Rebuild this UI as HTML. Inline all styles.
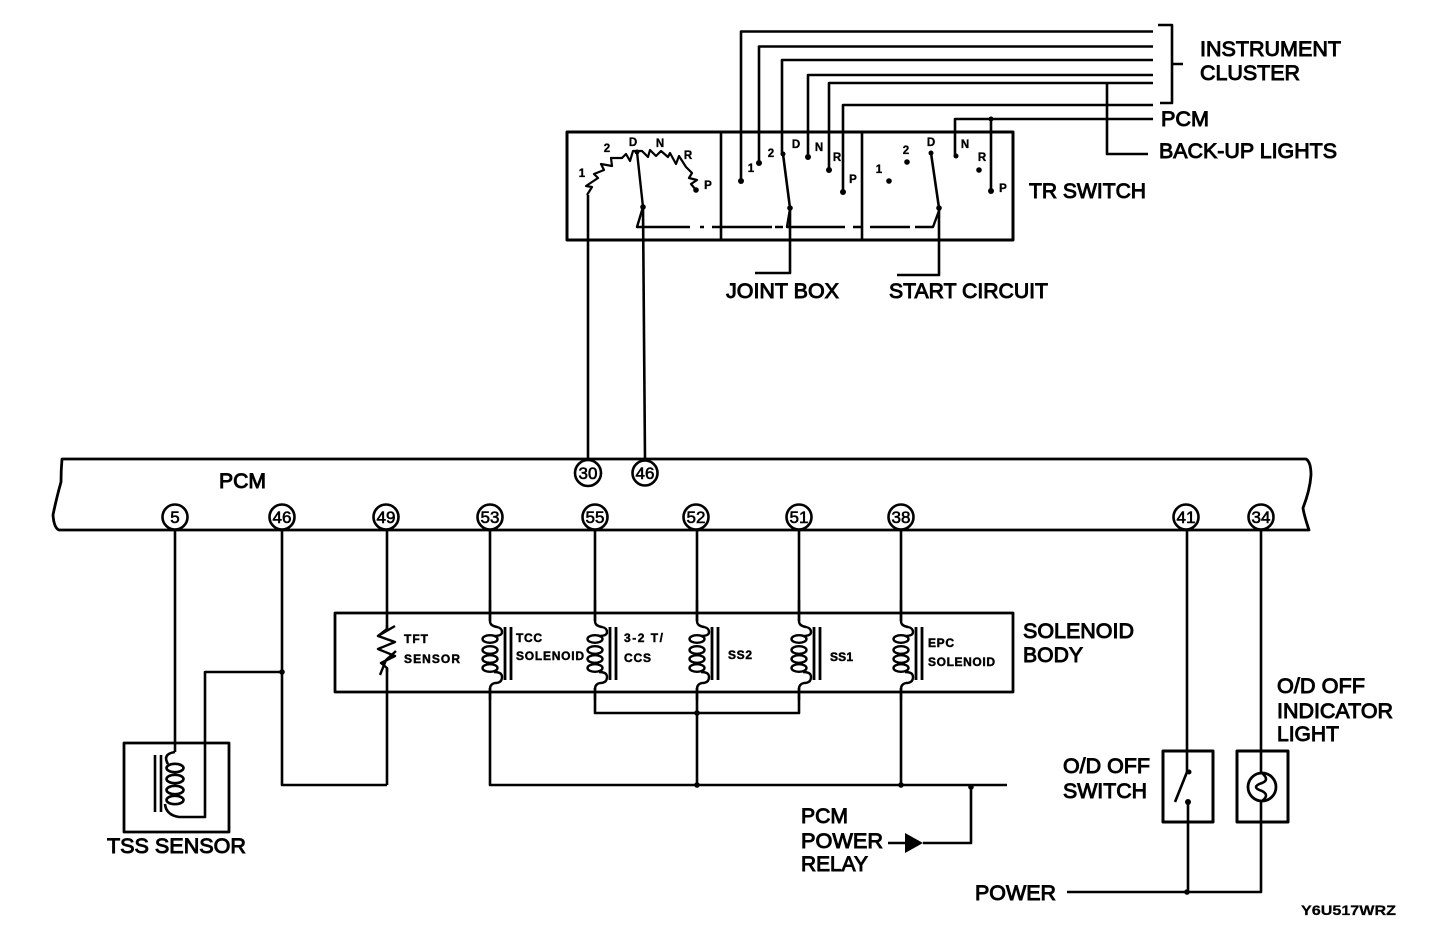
<!DOCTYPE html>
<html><head><meta charset="utf-8"><style>
html,body{margin:0;padding:0;background:#fff}
svg{display:block}
text{font-family:"Liberation Sans",sans-serif;fill:#000;stroke:#000;stroke-width:.95px;font-size:21px}
.s{font-size:12px;font-weight:bold;stroke-width:.45px}
.l{font-size:11.5px;font-weight:bold;stroke-width:.35px;text-anchor:middle}
.n{font-size:17px;stroke-width:.6px;text-anchor:middle}
</style></head><body>
<svg width="1456" height="930" viewBox="0 0 1456 930" xmlns="http://www.w3.org/2000/svg">
<defs>
<g id="coil" fill="none" stroke="#000" stroke-width="2.4">
<path d="M0 600V621Q0 626 7 627Q12 628 12 632Q12 636 4 636M4 672Q12 672 12 677Q12 683 5 683Q0 684 0 689V700"/>
<ellipse cx="0" cy="639" rx="7.5" ry="3.8"/><ellipse cx="0" cy="650" rx="7.5" ry="3.8"/><ellipse cx="0" cy="659" rx="7.5" ry="3.8"/><ellipse cx="0" cy="668" rx="7.5" ry="3.8"/>
<path d="M15 627V680M21 627V680" stroke-width="2.8"/>
</g>
</defs>
<g fill="none" stroke="#000" stroke-width="2.6" stroke-linejoin="round">
<!-- top wires -->
<path d="M1153 31.5H741V181"/>
<path d="M1153 46.5H759V163"/>
<path d="M1153 60H782V154"/>
<path d="M1153 75H808V157"/>
<path d="M1153 83H829V170"/>
<path d="M1153 105H843V192"/>
<path d="M1153 119H955V156"/>
<path d="M991 119V191"/>
<path d="M1107 83V154H1148"/>
<path d="M1158 25H1172V103H1160M1172 64H1183"/>
<!-- TR switch -->
<rect x="567" y="132" width="446" height="108" stroke-width="3"/>
<path d="M721 132V240M862 132V240"/>
<path d="M587 195L592 187L586 186L598 178L594 174L604 170L601 164L612 166L611 158L622 158L626 154L630 161L633 151L642 151L648 157L650 150L656 156L661 151L668 157L670 153L676 164L679 156L686 167L692 173L689 178L697 180L691 184L696 190" stroke-width="2.2"/>
<path d="M588 195V460"/>
<path d="M643 207L645 460"/>
<path d="M637 152L643 207L637 227L643 207" stroke-width="2.4"/>
<path d="M637 227H690M700 227H704M712 227H772M775 227H783M790 209L787 227H845M853 227H862M870 227H910M915 227H933L940 208" stroke-width="2.4"/>
<path d="M783 154L790 208V273H755"/>
<path d="M931 153L939 208V275H897"/>
<!-- PCM bar -->
<path d="M1306 459H62Q61 470 61 482Q56 500 53 515Q54 528 59 530H1309Q1304 515 1303 508Q1310 490 1311 475Q1311 462 1306 459Z" stroke-width="2.8"/>
<!-- verticals below PCM -->
<path d="M175 530V752"/>
<path d="M282 530V785H387"/>
<path d="M282 672H205V817H179Q166 815 165 804"/>
<path d="M175 752Q162 754 168 764"/>
<!-- TSS -->
<rect x="124" y="743" width="105" height="89" stroke-width="2.8"/>
<path d="M155 755V812M161 755V812"/>
<ellipse cx="175" cy="768" rx="8.5" ry="4.2"/><ellipse cx="175" cy="779" rx="8.5" ry="4.2"/><ellipse cx="175" cy="790" rx="8.5" ry="4.2"/><ellipse cx="175" cy="800" rx="8.5" ry="4.2"/>
<!-- solenoid box -->
<rect x="335" y="613" width="678" height="79" stroke-width="2.8"/>
<path d="M387 625V629L378 636L395 642L378 649L395 656L381 663L387 668V672M380 675L386 660L396 651M378 636L395 626" stroke-width="2.4"/>
<path d="M387 530V630M387 668V785" />
<path d="M490 530V621M595 530V621M697 530V621M799 530V621M901 530V621"/>
<path d="M490 688V785H1007"/>
<path d="M595 688V713H799V688"/>
<path d="M697 688V785M901 688V785"/>
<path d="M971 787V843H923"/>
<path d="M888 843H905"/>
<!-- right -->
<rect x="1163" y="751" width="50" height="71" stroke-width="3"/>
<rect x="1237" y="751" width="51" height="71" stroke-width="3"/>
<path d="M1187 530V772L1175 802M1188 802V892M1067 892H1261V822M1261 530V773M1261 801V822"/>
<circle cx="1262" cy="787" r="14" stroke-width="2.8"/>
<path d="M1262 773Q1270 780 1262 783Q1250 787 1262 791Q1270 795 1262 801" stroke-width="2.6"/>
</g>
<g fill="#000" stroke="none">
<path d="M905 833L923 843L905 853Z"/>
<circle cx="741" cy="181" r="3"/><circle cx="759" cy="163" r="3"/><circle cx="783" cy="154" r="2.5"/><circle cx="808" cy="157" r="3"/><circle cx="829" cy="170" r="3"/><circle cx="843" cy="192" r="3"/>
<circle cx="889" cy="181" r="2.8"/><circle cx="907" cy="162" r="2.8"/><circle cx="931" cy="153" r="2.5"/><circle cx="956" cy="156" r="2.5"/><circle cx="979" cy="170" r="2.8"/><circle cx="991" cy="191" r="3"/><circle cx="991" cy="119" r="2.5"/>
<circle cx="643" cy="207" r="2.8"/><circle cx="790" cy="208" r="2.8"/><circle cx="939" cy="208" r="2.8"/><circle cx="637" cy="152" r="2.5"/><circle cx="696" cy="190" r="2.8"/>
<circle cx="282" cy="672" r="2.8"/><circle cx="697" cy="713" r="2.8"/><circle cx="697" cy="785" r="2.8"/><circle cx="901" cy="785" r="2.8"/><circle cx="971" cy="787" r="2.8"/><circle cx="1187" cy="892" r="2.8"/><circle cx="1188" cy="802" r="3"/><circle cx="1189" cy="772" r="2.5"/>
</g>
<use href="#coil" x="490"/><use href="#coil" x="595"/><use href="#coil" x="697"/><use href="#coil" x="799"/><use href="#coil" x="901"/>
<g fill="#fff" stroke="#000" stroke-width="2.6">
<circle cx="175" cy="517" r="12.5"/><circle cx="282" cy="517" r="12.5"/><circle cx="386" cy="517" r="12.5"/><circle cx="490" cy="517" r="12.5"/><circle cx="595" cy="517" r="12.5"/><circle cx="696" cy="517" r="12.5"/><circle cx="799" cy="517" r="12.5"/><circle cx="901" cy="517" r="12.5"/><circle cx="1186" cy="517" r="12.5"/><circle cx="1261" cy="517" r="12.5"/><circle cx="588" cy="473" r="13"/><circle cx="645" cy="473" r="12.5"/>
</g>
<g class="t">
<text class="n" x="175" y="523">5</text><text class="n" x="282" y="523">46</text><text class="n" x="386" y="523">49</text><text class="n" x="490" y="523">53</text><text class="n" x="595" y="523">55</text><text class="n" x="696" y="523">52</text><text class="n" x="799" y="523">51</text><text class="n" x="901" y="523">38</text><text class="n" x="1186" y="523">41</text><text class="n" x="1261" y="523">34</text><text class="n" x="588" y="479">30</text><text class="n" x="645" y="479">46</text>
<text x="1200" y="56" textLength="141" lengthAdjust="spacingAndGlyphs">INSTRUMENT</text>
<text x="1200" y="80" textLength="100" lengthAdjust="spacingAndGlyphs">CLUSTER</text>
<text x="1161" y="126" textLength="48" lengthAdjust="spacingAndGlyphs">PCM</text>
<text x="1159" y="158" textLength="178" lengthAdjust="spacingAndGlyphs">BACK-UP LIGHTS</text>
<text x="1029" y="198" textLength="117" lengthAdjust="spacingAndGlyphs">TR SWITCH</text>
<text x="726" y="298" textLength="113" lengthAdjust="spacingAndGlyphs">JOINT BOX</text>
<text x="889" y="298" textLength="159" lengthAdjust="spacingAndGlyphs">START CIRCUIT</text>
<text x="219" y="488" textLength="47" lengthAdjust="spacingAndGlyphs">PCM</text>
<text x="1023" y="638" textLength="111" lengthAdjust="spacingAndGlyphs">SOLENOID</text>
<text x="1023" y="662" textLength="60" lengthAdjust="spacingAndGlyphs">BODY</text>
<text x="1277" y="693" textLength="88" lengthAdjust="spacingAndGlyphs">O/D OFF</text>
<text x="1277" y="718" textLength="116" lengthAdjust="spacingAndGlyphs">INDICATOR</text>
<text x="1277" y="741" textLength="62" lengthAdjust="spacingAndGlyphs">LIGHT</text>
<text x="1063" y="773" textLength="87" lengthAdjust="spacingAndGlyphs">O/D OFF</text>
<text x="1063" y="798" textLength="84" lengthAdjust="spacingAndGlyphs">SWITCH</text>
<text x="107" y="853" textLength="139" lengthAdjust="spacingAndGlyphs">TSS SENSOR</text>
<text x="801" y="823" textLength="47" lengthAdjust="spacingAndGlyphs">PCM</text>
<text x="801" y="848" textLength="82" lengthAdjust="spacingAndGlyphs">POWER</text>
<text x="801" y="871" textLength="67" lengthAdjust="spacingAndGlyphs">RELAY</text>
<text x="975" y="900" textLength="81" lengthAdjust="spacingAndGlyphs">POWER</text>
<text x="1301" y="915" textLength="95" lengthAdjust="spacingAndGlyphs" style="font-size:14px;font-weight:bold;stroke-width:.25px">Y6U517WRZ</text>
<text class="s" x="404" y="643" textLength="24">TFT</text>
<text class="s" x="404" y="663" textLength="56">SENSOR</text>
<text class="s" x="516" y="642" textLength="26">TCC</text>
<text class="s" x="516" y="660" textLength="68">SOLENOID</text>
<text class="s" x="624" y="642" textLength="39">3-2 T/</text>
<text class="s" x="624" y="662" textLength="27">CCS</text>
<text class="s" x="728" y="659" textLength="24">SS2</text>
<text class="s" x="830" y="661" textLength="23">SS1</text>
<text class="s" x="928" y="647" textLength="26">EPC</text>
<text class="s" x="928" y="666" textLength="67">SOLENOID</text>
<text class="l" x="582" y="177">1</text><text class="l" x="607" y="152">2</text><text class="l" x="633" y="146">D</text><text class="l" x="660" y="147">N</text><text class="l" x="688" y="159">R</text><text class="l" x="708" y="189">P</text>
<text class="l" x="751" y="172">1</text><text class="l" x="771" y="157">2</text><text class="l" x="796" y="148">D</text><text class="l" x="819" y="151">N</text><text class="l" x="837" y="161">R</text><text class="l" x="853" y="183">P</text>
<text class="l" x="879" y="173">1</text><text class="l" x="906" y="154">2</text><text class="l" x="931" y="146">D</text><text class="l" x="965" y="148">N</text><text class="l" x="982" y="161">R</text><text class="l" x="1003" y="192">P</text>
</g>
</svg>
</body></html>
